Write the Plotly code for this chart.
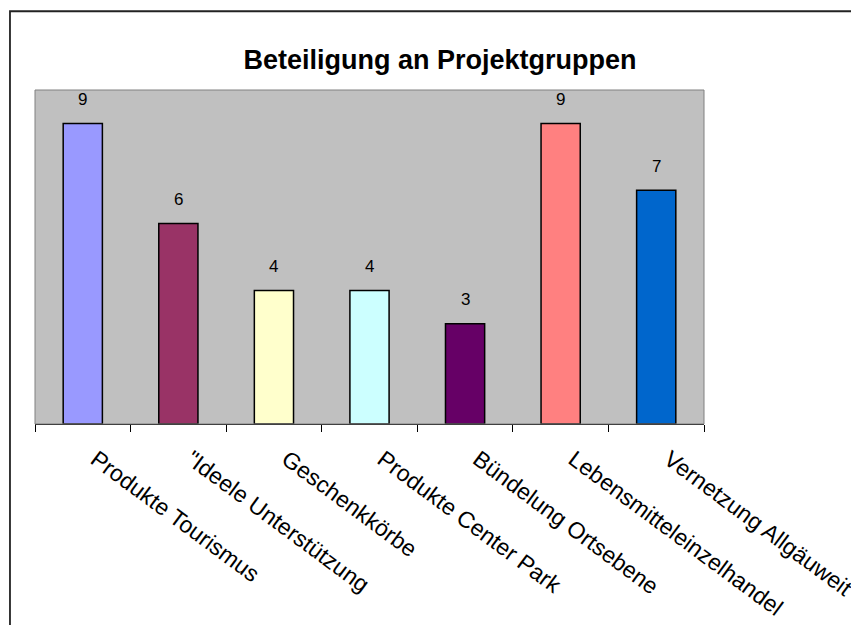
import plotly.graph_objects as go

categories = ["Produkte Tourismus", "\"Ideele Unterstützung", "Geschenkkörbe",
              "Produkte Center Park", "Bündelung Ortsebene",
              "Lebensmitteleinzelhandel", "Vernetzung Allgäuweit"]
values = [9, 6, 4, 4, 3, 9, 7]
colors = ["#9999FF", "#993366", "#FFFFCC", "#CCFFFF", "#660066", "#FF8080", "#0066CC"]

FONT = "Arial, Liberation Sans, sans-serif"

fig = go.Figure()
fig.add_trace(go.Bar(
    x=categories, y=values,
    marker=dict(color=colors, line=dict(color="black", width=1.5)),
    width=0.41,
    hoverinfo="skip",
))

for c, v in zip(categories, values):
    fig.add_annotation(x=c, y=v, text=str(v), showarrow=False,
                       yanchor="middle", yshift=24,
                       font=dict(family=FONT, size=17, color="black"))

# plot-area border (gray)
fig.add_shape(type="rect", xref="paper", yref="paper", x0=0, x1=1, y0=0, y1=1,
              line=dict(color="#808080", width=1), layer="above")
# outer chart border
fig.add_shape(type="rect", xref="paper", yref="paper", x0=-0.0374, x1=3, y0=-3, y1=1.2358,
              line=dict(color="#222222", width=1.8), layer="below")

fig.update_layout(
    width=851, height=617,
    margin=dict(l=27, r=155, t=82, b=201, autoexpand=False),
    paper_bgcolor="white", plot_bgcolor="#C0C0C0",
    showlegend=False,
    title=dict(text="<b>Beteiligung an Projektgruppen</b>", x=432/851, xref="container",
               xanchor="center", y=1 - 52/617, yanchor="middle",
               font=dict(family=FONT, size=27, color="black")),
    font=dict(family=FONT, color="black"),
)
fig.update_xaxes(showline=True, linecolor="black", linewidth=1,
                 ticks="outside", tickson="boundaries", ticklen=7, tickcolor="black",
                 tickangle=36.5, tickfont=dict(size=23, family=FONT),
                 ticklabelstandoff=12, ticklabelshift=13, automargin=False,
                 showgrid=False, range=[-0.5, 6.5])
fig.update_yaxes(range=[0, 10], showticklabels=False, showgrid=False, zeroline=False,
                 ticks="", showline=False, automargin=False)

fig.write_html("out.html")
